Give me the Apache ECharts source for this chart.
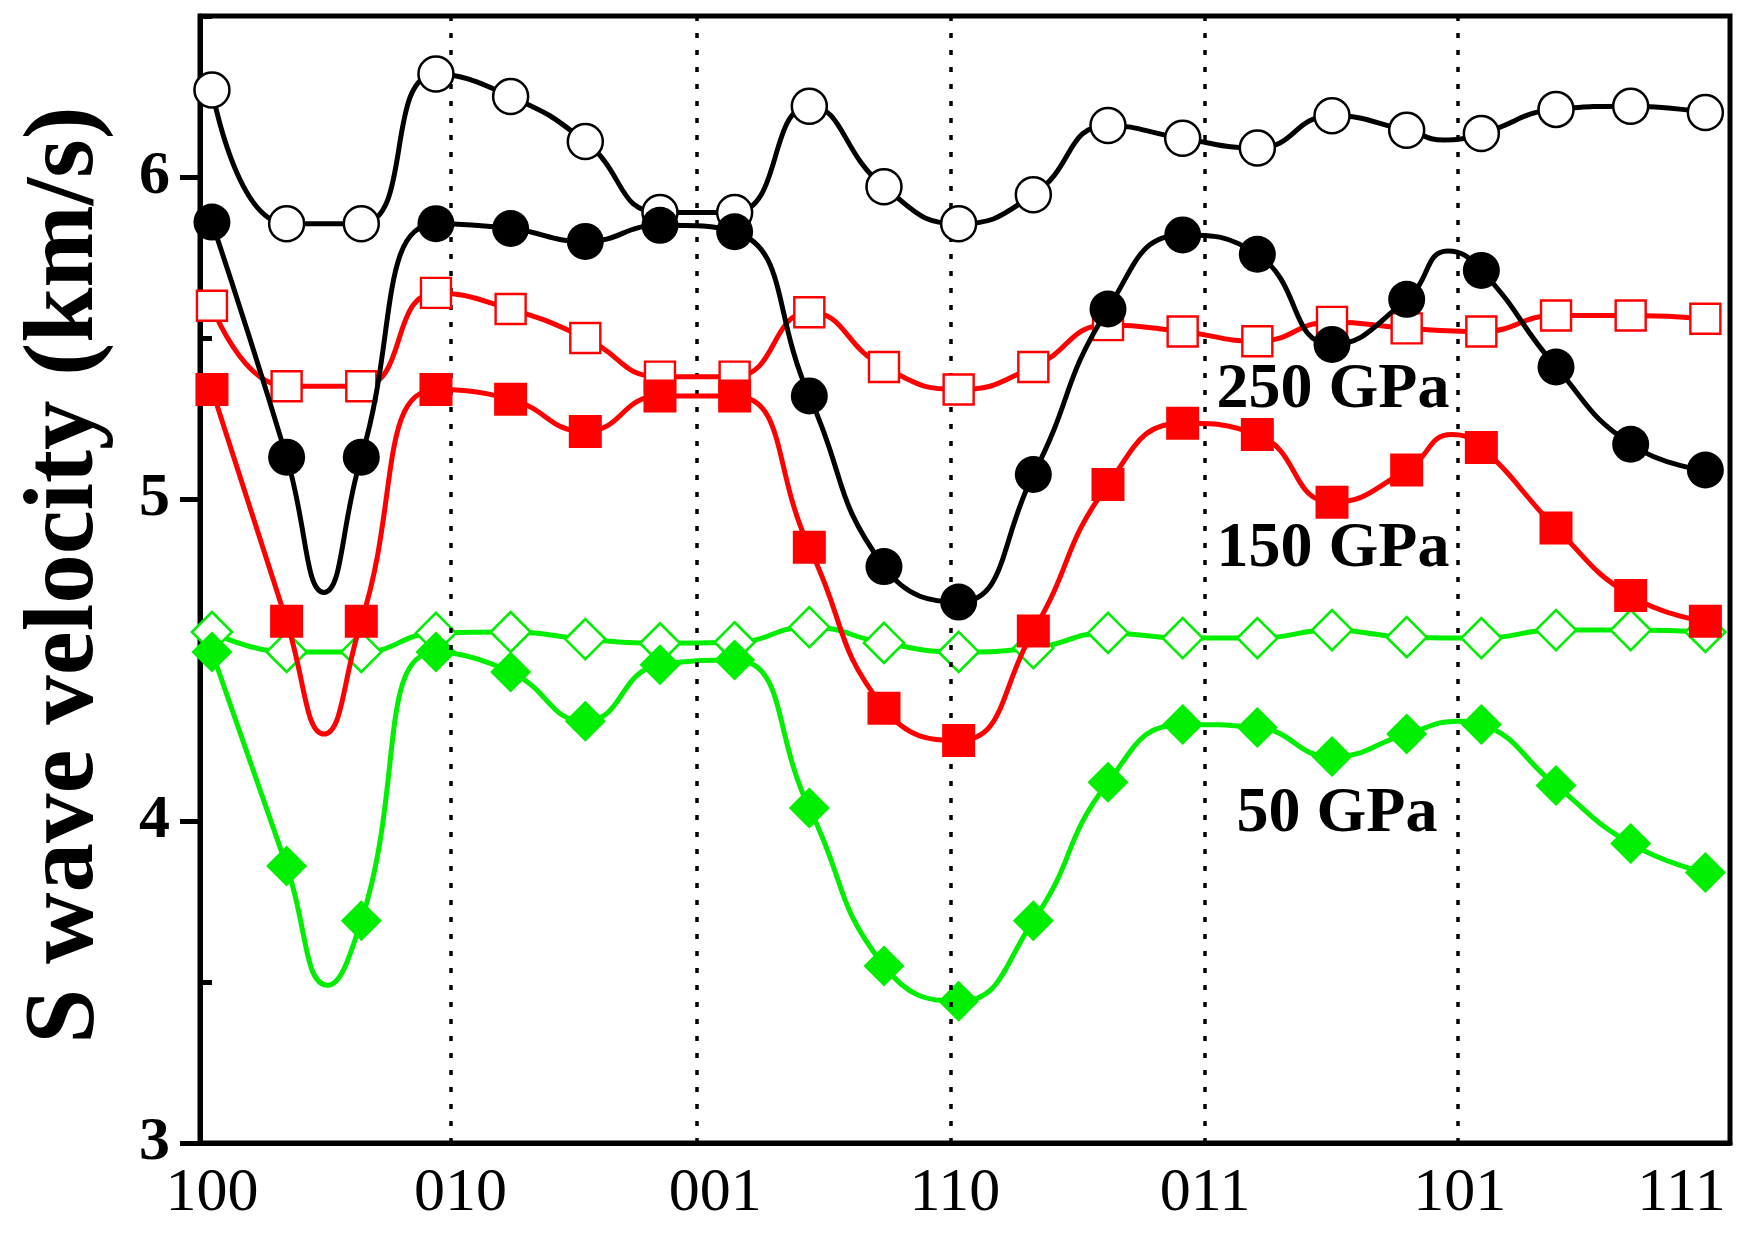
<!DOCTYPE html>
<html>
<head>
<meta charset="utf-8">
<script src="https://cdn.jsdelivr.net/npm/echarts@6/dist/echarts.min.js"></script>
<style>
  html, body { margin: 0; padding: 0; background: #ffffff; }
  #chart { width: 1742px; height: 1247px; }
</style>
</head>
<body>
<div id="chart"></div>
<script>
// Sampling steps along the path 100 -> 010 -> 001 -> 110 -> 011 -> 101 -> 111
const step = [0, 1, 2, 3, 4, 5, 6, 7, 8, 9, 10, 11, 12, 13, 14, 15, 16, 17, 18, 19, 20];

// Crystallographic directions: tick labels and where they sit on the step axis
const directions = ['100', '010', '001', '110', '011', '101', '111'];
const directionLabelAt = [0, 3.33, 6.74, 9.95, 13.3, 16.71, 19.68];
const directionLineAt = [3.2, 6.49, 9.9, 13.3, 16.68];

// S wave velocities (km/s), two polarisations per pressure
const vs2_250 = [6.27, 5.855, 5.855, 6.32, 6.25, 6.11, 5.89, 5.89, 6.22, 5.97, 5.855,
                 5.945, 6.16, 6.12, 6.09, 6.19, 6.145, 6.135, 6.21, 6.22, 6.20];
const vs1_250 = [5.86, 5.13, 5.13, 5.855, 5.84, 5.80, 5.85, 5.83, 5.32, 4.79, 4.68,
                 5.076, 5.59, 5.82, 5.76, 5.48, 5.62, 5.71, 5.41, 5.17, 5.09];
const vs2_150 = [5.60, 5.35, 5.35, 5.64, 5.59, 5.50, 5.38, 5.38, 5.58, 5.41, 5.34,
                 5.41, 5.54, 5.52, 5.49, 5.55, 5.53, 5.52, 5.57, 5.57, 5.56];
const vs1_150 = [5.34, 4.62, 4.62, 5.34, 5.31, 5.21, 5.32, 5.32, 4.85, 4.35, 4.25,
                 4.59, 5.045, 5.235, 5.20, 4.99, 5.09, 5.16, 4.91, 4.70, 4.62];
const vs2_50  = [4.587, 4.525, 4.525, 4.584, 4.587, 4.565, 4.552, 4.555, 4.602, 4.553, 4.525,
                 4.537, 4.584, 4.568, 4.568, 4.593, 4.571, 4.568, 4.593, 4.593, 4.587];
const vs1_50  = [4.525, 3.86, 3.69, 4.525, 4.463, 4.31, 4.485, 4.50, 4.04, 3.55, 3.44,
                 3.69, 4.12, 4.30, 4.29, 4.20, 4.27, 4.30, 4.11, 3.93, 3.84];

// Curve values between samples where the dispersion curve turns (step, km/s)
const vs2_250_between = [[16.5, 6.115]];
const vs1_250_between = [[1.5, 4.71], [16.55, 5.77]];
const vs1_150_between = [[1.5, 4.27], [16.6, 5.20]];
const vs1_50_between  = [[1.55, 3.49], [16.7, 4.31]];

const BLACK = '#000000';
const RED = '#ff0000';
const GREEN = '#00ee00';
const SERIF = '"Liberation Serif", "Times New Roman", serif';

function samples(values) {
  return step.map((s, i) => [s, values[i]]);
}
function curve(values, between) {
  return samples(values).concat(between || []).sort((a, b) => a[0] - b[0]);
}
function lineSeries(values, between, color, width, z) {
  return {
    type: 'line', data: curve(values, between), smooth: true,
    showSymbol: false, symbol: 'none', z: z, silent: true,
    lineStyle: { color: color, width: width }
  };
}
function markerSeries(values, symbol, size, fill, border, borderWidth, z) {
  return {
    type: 'scatter', data: samples(values), symbol: symbol, symbolSize: size,
    z: z, silent: true,
    itemStyle: { color: fill, borderColor: border, borderWidth: borderWidth, opacity: 1 }
  };
}

const chart = echarts.init(document.getElementById('chart'), null, { renderer: 'canvas' });

const series = [
  // dotted direction guides
  {
    type: 'line', data: [], z: 1, silent: true,
    markLine: {
      silent: true, symbol: 'none', label: { show: false },
      lineStyle: { color: BLACK, width: 3.5, type: [5, 12] },
      data: directionLineAt.map(v => ({ xAxis: v }))
    }
  },
  // 50 GPa
  lineSeries(vs2_50, null, GREEN, 5, 2),
  lineSeries(vs1_50, vs1_50_between, GREEN, 5, 2),
  markerSeries(vs2_50, 'diamond', 40, '#ffffff', GREEN, 2.6, 3),
  markerSeries(vs1_50, 'diamond', 41, GREEN, GREEN, 0, 4),
  // 150 GPa
  lineSeries(vs2_150, null, RED, 5, 5),
  lineSeries(vs1_150, vs1_150_between, RED, 5, 5),
  markerSeries(vs2_150, 'rect', 30, '#ffffff', RED, 2.4, 6),
  markerSeries(vs1_150, 'rect', 33, RED, RED, 0, 7),
  // 250 GPa
  lineSeries(vs2_250, vs2_250_between, BLACK, 5, 8),
  lineSeries(vs1_250, vs1_250_between, BLACK, 5, 8),
  markerSeries(vs2_250, 'circle', 35, '#ffffff', BLACK, 2.5, 9),
  markerSeries(vs1_250, 'circle', 37, BLACK, BLACK, 0, 10)
];

chart.setOption({
  animation: false,
  backgroundColor: '#ffffff',
  grid: {
    left: 200, right: 12, top: 16, bottom: 104,
    show: true, borderColor: BLACK, borderWidth: 5, backgroundColor: 'transparent'
  },
  xAxis: {
    type: 'value', min: -0.16, max: 20.33,
    axisLine: { show: true, onZero: false, lineStyle: { color: BLACK, width: 5 } },
    axisTick: { show: false },
    splitLine: { show: false },
    axisLabel: {
      customValues: directionLabelAt,
      formatter: v => {
        const k = directionLabelAt.findIndex(p => Math.abs(p - v) < 1e-6);
        return k >= 0 ? directions[k] : '';
      },
      fontFamily: SERIF, fontSize: 62, color: BLACK, margin: 20
    }
  },
  yAxis: [
    {
      type: 'value', min: 3, max: 6.5,
      axisLine: { show: true, onZero: false, lineStyle: { color: BLACK, width: 5 } },
      axisTick: { show: true, customValues: [3, 4, 5, 6], length: 20, lineStyle: { color: BLACK, width: 5 } },
      splitLine: { show: false },
      axisLabel: {
        customValues: [3, 4, 5, 6],
        fontFamily: SERIF, fontWeight: 'bold', fontSize: 62, color: BLACK, margin: 30
      }
    },
    {
      type: 'value', min: 3, max: 6.5, position: 'left',
      axisLine: { show: false },
      axisTick: { show: true, customValues: [3.5, 4.5, 5.5, 6.5], length: 11, lineStyle: { color: BLACK, width: 5 } },
      splitLine: { show: false },
      axisLabel: { show: false }
    }
  ],
  series: series,
  graphic: [
    {
      type: 'text', x: 66, y: 575, rotation: Math.PI / 2, silent: true,
      style: {
        text: 'S wave velocity (km/s)', fontFamily: SERIF, fontWeight: 'bold',
        fontSize: 99, fill: BLACK, align: 'center', verticalAlign: 'middle'
      }
    },
    {
      type: 'text', x: 1333, y: 390, silent: true, z: 20,
      style: { text: '250 GPa', fontFamily: SERIF, fontWeight: 'bold', fontSize: 64,
               fill: BLACK, align: 'center', verticalAlign: 'middle' }
    },
    {
      type: 'text', x: 1333, y: 549, silent: true, z: 20,
      style: { text: '150 GPa', fontFamily: SERIF, fontWeight: 'bold', fontSize: 64,
               fill: BLACK, align: 'center', verticalAlign: 'middle' }
    },
    {
      type: 'text', x: 1337, y: 814, silent: true, z: 20,
      style: { text: '50 GPa', fontFamily: SERIF, fontWeight: 'bold', fontSize: 64,
               fill: BLACK, align: 'center', verticalAlign: 'middle' }
    }
  ]
});
</script>
</body>
</html>
